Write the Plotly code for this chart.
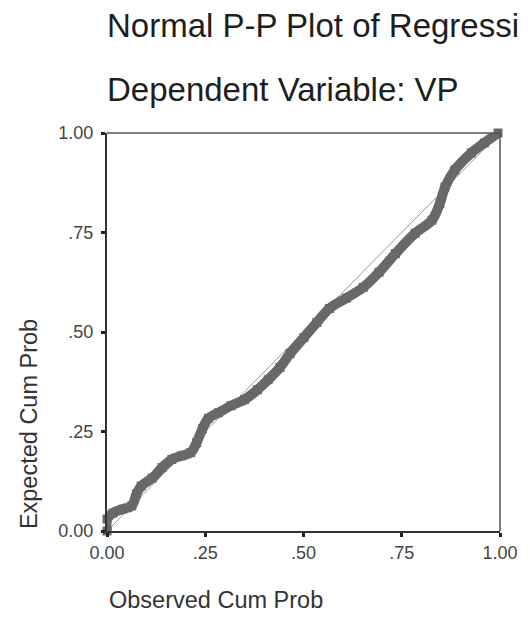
import plotly.graph_objects as go

# Observed cumulative probability (x) and expected cumulative probability (y)
observed_cum_prob = [0.000, 0.000, 0.015, 0.040, 0.063, 0.075, 0.087, 0.115, 0.140, 0.165,
                     0.190, 0.213, 0.228, 0.243, 0.258, 0.283, 0.316, 0.350, 0.383, 0.410,
                     0.440, 0.466, 0.501, 0.534, 0.566, 0.609, 0.652, 0.692, 0.734, 0.784,
                     0.827, 0.847, 0.860, 0.885, 0.927, 0.960, 0.995]
expected_cum_prob = [0.000, 0.030, 0.045, 0.055, 0.063, 0.093, 0.113, 0.133, 0.159, 0.180,
                     0.189, 0.197, 0.222, 0.257, 0.283, 0.297, 0.315, 0.330, 0.355, 0.380,
                     0.411, 0.446, 0.486, 0.524, 0.559, 0.585, 0.612, 0.650, 0.697, 0.748,
                     0.781, 0.823, 0.864, 0.907, 0.950, 0.975, 1.000]

# Reference diagonal
ref_x = [0.0, 1.0]
ref_y = [0.0, 1.0]

tick_vals = [0.0, 0.25, 0.50, 0.75, 1.0]
tick_text = ["0.00", ".25", ".50", ".75", "1.00"]

# The reference title is cut off by the image edge; keep the visible part
title_line1 = "Normal P-P Plot of Regressi"
title_line2 = "Dependent Variable: VP"
x_title = "Observed Cum Prob"
y_title = "Expected Cum Prob"

FONT = "Liberation Sans, Arial, sans-serif"

fig = go.Figure()
fig.add_trace(go.Scatter(
    x=ref_x, y=ref_y, mode="lines",
    line=dict(color="#9a9a9a", width=1),
    hoverinfo="skip", showlegend=False,
))
fig.add_trace(go.Scatter(
    x=observed_cum_prob, y=expected_cum_prob, mode="lines+markers",
    line=dict(color="#686868", width=10, shape="spline", smoothing=1.0),
    marker=dict(color="#686868", size=9, symbol="square"),
    cliponaxis=False, showlegend=False,
))

axis_common = dict(
    range=[0, 1], tickvals=tick_vals, ticktext=tick_text,
    showgrid=False, zeroline=False,
    showline=True, linecolor="#333333", linewidth=2,
    ticks="outside", ticklen=4, tickwidth=3, tickcolor="#222222",
    tickfont=dict(family=FONT, size=18, color="#444444"),
)
fig.update_xaxes(**axis_common)
fig.update_yaxes(**axis_common, ticklabelstandoff=4)

# thinner top and right frame lines
fig.add_shape(type="line", xref="paper", yref="paper", x0=0, x1=1, y0=1, y1=1,
              line=dict(color="#555555", width=1.5))
fig.add_shape(type="line", xref="paper", yref="paper", x0=1, x1=1, y0=0, y1=1,
              line=dict(color="#555555", width=1.5))

fig.add_annotation(text=title_line1, xref="paper", yref="paper", x=-0.005, y=1.271,
                   xanchor="left", yanchor="middle", showarrow=False,
                   font=dict(family=FONT, size=33, color="#1e1e1e"))
fig.add_annotation(text=title_line2, xref="paper", yref="paper", x=-0.005, y=1.11,
                   xanchor="left", yanchor="middle", showarrow=False,
                   font=dict(family=FONT, size=33, color="#1e1e1e"))
fig.add_annotation(text=x_title, xref="paper", yref="paper", x=0.0, y=-0.173,
                   xanchor="left", yanchor="middle", showarrow=False,
                   font=dict(family=FONT, size=23.5, color="#333333"))
fig.add_annotation(text=y_title, xref="paper", yref="paper", x=-0.198, y=0.269,
                   xanchor="center", yanchor="middle", textangle=-90, showarrow=False,
                   font=dict(family=FONT, size=23.5, color="#333333"))

fig.update_layout(
    width=530, height=620,
    margin=dict(l=107, r=24, t=133, b=89),
    paper_bgcolor="white", plot_bgcolor="white",
)

fig.write_html("out.html", config={"displayModeBar": False},
               post_script="document.body.style.margin='0';")
